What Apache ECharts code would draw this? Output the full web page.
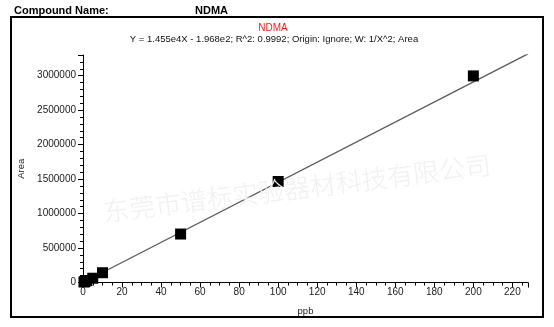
<!DOCTYPE html>
<html>
<head>
<meta charset="utf-8">
<script src="https://cdn.jsdelivr.net/npm/echarts@6/dist/echarts.min.js"></script>
<style>
html,body{margin:0;padding:0;background:#fff;}
#c{width:554px;height:327px;}
</style>
</head>
<body>
<div id="c"></div>
<script>
// ---- data ----
const concentrations = [0.5, 1, 2, 5, 10, 50, 100, 200];   // ppb
const areas = [7000, 14000, 28000, 62000, 142000, 703000, 1465000, 2997000];
const fitSlope = 1.455e4;
const fitIntercept = -1.968e2;
const fitXRange = [0, 228];
const compoundName = "NDMA";
const equationText = "Y = 1.455e4X - 1.968e2; R^2: 0.9992; Origin: Ignore; W: 1/X^2; Area";
const watermarkText = "东莞市谱标实验器材科技有限公司";

const points = concentrations.map((x, i) => [x, areas[i]]);
const fitLine = fitXRange.map(x => [x, fitSlope * x + fitIntercept]);

const FONT = "Liberation Sans, Arial, sans-serif";
const chart = echarts.init(document.getElementById('c'), null, {renderer: 'canvas'});
chart.setOption({
  animation: false,
  backgroundColor: '#fff',
  textStyle: {fontFamily: FONT},
  grid: {left: 83, top: 55, right: 26, bottom: 44.5, containLabel: false},
  graphic: [
    {type: 'rect', shape: {x: 11, y: 17, width: 532, height: 300},
     style: {fill: 'none', stroke: '#000', lineWidth: 2}, z: 1},
    {type: 'text', left: 14, top: 5,
     style: {text: 'Compound Name:', font: 'bold 11px ' + FONT, fill: '#000'}},
    {type: 'text', left: 195, top: 5,
     style: {text: compoundName, font: 'bold 11px ' + FONT, fill: '#000'}},
    {type: 'text', x: 273, y: 28,
     style: {text: compoundName, font: '10px ' + FONT, fill: '#ff1a1a', align: 'center', verticalAlign: 'middle'}},
    {type: 'text', x: 274, y: 39,
     style: {text: equationText, font: '9.5px ' + FONT, fill: '#111', align: 'center', verticalAlign: 'middle'}},
    {type: 'text', x: 297, y: 188, rotation: 7 * Math.PI / 180, z: 100,
     style: {text: watermarkText, font: '300 26px "Noto Sans CJK SC"', fill: '#f0f0f0',
             align: 'center', verticalAlign: 'middle'}}
  ],
  xAxis: {
    type: 'value', min: 0, max: 228, interval: 20,
    name: 'ppb', nameLocation: 'middle', nameGap: 24,
    nameTextStyle: {fontSize: 9.5, color: '#222'},
    axisLine: {show: true, onZero: false, lineStyle: {color: '#000', width: 1}},
    axisTick: {show: true, length: 5, lineStyle: {color: '#000'}},
    minorTick: {show: true, splitNumber: 4, length: 3, lineStyle: {color: '#000'}},
    axisLabel: {fontSize: 10, color: '#1a1a1a', margin: 5, showMaxLabel: false},
    splitLine: {show: false}
  },
  yAxis: {
    type: 'value', min: 0, max: 3300000, interval: 500000,
    name: 'Area', nameLocation: 'middle', nameGap: 56, nameRotate: 90,
    nameTextStyle: {fontSize: 9.5, color: '#222'},
    axisLine: {show: true, onZero: false, lineStyle: {color: '#000', width: 1}},
    axisTick: {show: true, length: 5, lineStyle: {color: '#000'}},
    minorTick: {show: true, splitNumber: 5, length: 3, lineStyle: {color: '#000'}},
    axisLabel: {fontSize: 10, color: '#1a1a1a', margin: 7, showMaxLabel: false,
                formatter: v => String(v)},
    splitLine: {show: false}
  },
  series: [
    {type: 'line', data: fitLine, symbol: 'none', z: 2,
     lineStyle: {color: '#5a5a5a', width: 1.3}},
    {type: 'scatter', data: points, symbol: 'rect', symbolSize: 11, z: 3,
     itemStyle: {color: '#000', opacity: 1}}
  ]
});
</script>
</body>
</html>
